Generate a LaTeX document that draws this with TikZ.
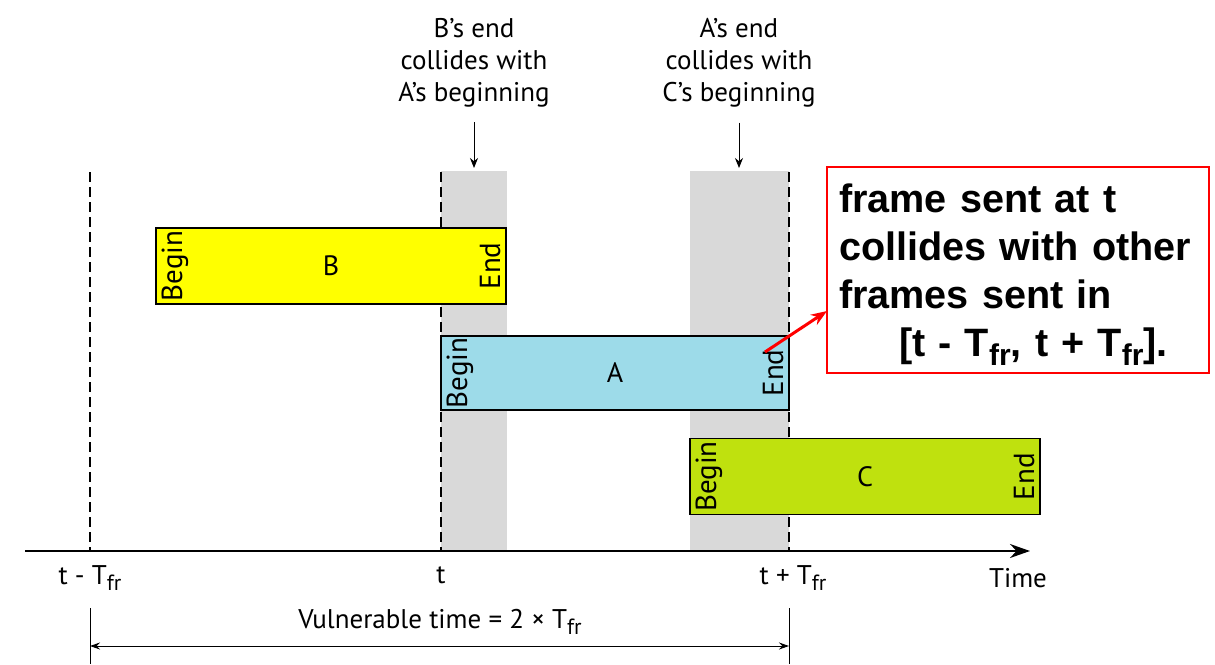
\documentclass[tikz,border=0pt]{standalone}
\usepackage{fontspec}
\setmainfont{PT Sans}
\newfontfamily\notefont{Liberation Sans}
\usetikzlibrary{arrows.meta, positioning}
\definecolor{bandgray}{HTML}{D9D9D9}
\definecolor{frameyellow}{HTML}{FFFF00}
\definecolor{frameblue}{HTML}{9DDBE9}
\definecolor{framegreen}{HTML}{BFE10E}
\newcommand{\Tfr}{T\raisebox{-0.5ex}{\fontsize{11}{11}\selectfont fr}}
\newcommand{\Tfrb}{T\raisebox{-0.45ex}{\fontsize{15}{15}\selectfont fr}}

\begin{document}
\begin{tikzpicture}[
	x=0.5pt, y=-0.5pt,
	every node/.style={font=\fontsize{13.5}{16}\selectfont},
	framebox/.style={draw, line width=0.8pt, minimum width=175pt, minimum height=38pt, inner sep=0pt, font=\fontsize{14}{16}\selectfont},
	beginlabel/.style={rotate=90, anchor=north, inner sep=3pt, font=\fontsize{14.5}{16}\selectfont},
	endlabel/.style={rotate=90, anchor=south, inner sep=3pt, font=\fontsize{14.5}{16}\selectfont},
	guide/.style={line width=0.9pt, dash pattern=on 5pt off 2.5pt},
	band/.style={fill=bandgray, draw=none},
	arrow/.style={-{Stealth[length=5pt, width=4pt]}, line width=0.5pt, shorten <=4pt},
	axis/.style={-{Stealth[length=10pt, width=7pt]}, line width=1pt},
	span/.style={{Stealth[length=5pt, width=3.5pt]}-{Stealth[length=5pt, width=3.5pt]}, line width=0.5pt},
	note/.style={draw=red, line width=1pt, align=left, text width=179pt, minimum height=103pt, inner xsep=6pt, inner ysep=3pt, anchor=north west, font=\notefont\bfseries\fontsize{19.8}{24}\selectfont}
	]
	\useasboundingbox (0,0) rectangle (1215,664);
	
	% Collision bands
	\fill[band] (441,171) rectangle (507,551);
	\fill[band] (690,171) rectangle (789,551);
	
	% Guides
	\draw[guide] (90,172) -- (90,551);
	\draw[guide] (441,172) -- (441,551);
	\draw[guide] (789,172) -- (789,551);
	
	% Frames
	\node (B) [framebox, fill=frameyellow] at (331,266) {B};
	\node (A) [framebox, fill=frameblue, minimum width=174pt, minimum height=37pt] at (615,373) {A};
	\node (C) [framebox, fill=framegreen] at (865,476.5) {C};
	\node [beginlabel] at (B.west) {Begin};
	\node [endlabel] at (B.east) {End};
	\node [beginlabel] at (A.west) {Begin};
	\node [endlabel] at (A.east) {End};
	\node [beginlabel] at (C.west) {Begin};
	\node [endlabel] at (C.east) {End};
	
	% Collision labels
	\node (bcoll) [align=center] at (474,63) {B’s end\\collides with\\A’s beginning};
	\node (acoll) [align=center] at (739,63) {A’s end\\collides with\\C’s beginning};
	\coordinate (bandBtop) at (474,168);
	\coordinate (bandCtop) at (739,168);
	\draw [arrow] (bcoll) -- (bandBtop);
	\draw [arrow] (acoll) -- (bandCtop);
	
	% Time axis
	\coordinate (axisstart) at (25,551);
	\coordinate (axisend) at (1030,551);
	\draw [axis] (axisstart) -- (axisend);
	\node (tminus) at (90,578) {t - \Tfr};
	\node (tnow) at (441,575) {t};
	\node (tplus) at (793,578) {t + \Tfr};
	\node (time) at (1018,578) {Time};
	
	% Vulnerable time
	\coordinate (vstart) at (90,646);
	\coordinate (vend) at (789,646);
	\draw [line width=0.5pt] (90,608) -- (90,664);
	\draw [line width=0.5pt] (789,608) -- (789,664);
	\draw [span] (vstart) -- (vend);
	\node (vtime) at (440,622) {Vulnerable time = 2 × \Tfr};
	
	% Note
	\node (notebox) [note] at (826,166) {\rule{0pt}{19pt}frame sent at t\\collides with other\\frames sent in\\\hspace*{30pt}[t - \Tfrb, t + \Tfrb].};
	\coordinate (Aend) at (765,352);
	\coordinate (noteend) at (827,311);
	\draw [-{Stealth[length=8pt, width=6pt]}, red, line width=1.5pt] (Aend) -- (noteend);
	
\end{tikzpicture}
\end{document}
